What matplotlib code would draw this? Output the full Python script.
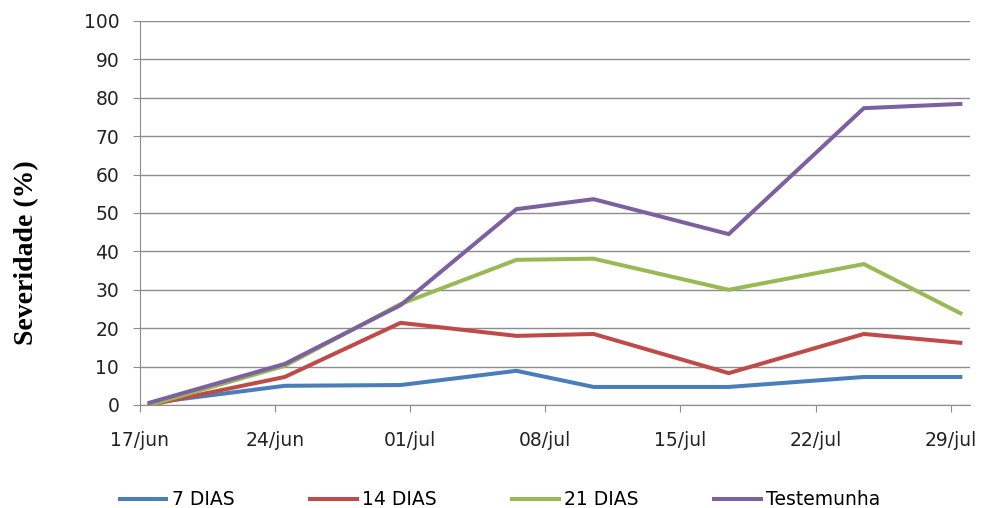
import datetime as dt
import matplotlib
matplotlib.use('Agg')
import matplotlib.pyplot as plt
import matplotlib.dates as mdates
from matplotlib.ticker import FuncFormatter

# evaluation dates (2010 is only a placeholder year)
dates = ['17/06', '24/06', '30/06', '06/07', '10/07', '17/07', '24/07', '29/07']

# severity (%) per treatment
dias_7 = [0.5, 5.0, 5.2, 8.9, 4.7, 4.7, 7.3, 7.3]
dias_14 = [0.0, 7.3, 21.4, 18.0, 18.5, 8.3, 18.5, 16.2]
dias_21 = [0.0, 10.2, 26.3, 37.8, 38.1, 30.0, 36.7, 23.9]
testemunha = [0.6, 10.7, 26.0, 51.0, 53.6, 44.5, 77.3, 78.4]

series_names = ['7 DIAS', '14 DIAS', '21 DIAS', 'Testemunha']
series_colors = ['#4A7EBB', '#BE4B48', '#98B954', '#7D60A0']

tick_dates = ['17/06', '24/06', '01/07', '08/07', '15/07', '22/07', '29/07']
month_names = {6: 'jun', 7: 'jul'}


def to_date(s):
    d, m = s.split('/')
    return dt.datetime(2010, int(m), int(d))


# Excel puts each point in the middle of its day
x = [mdates.date2num(to_date(s)) + 0.5 for s in dates]
ticks = [mdates.date2num(to_date(s)) for s in tick_dates]

plt.rcParams['font.family'] = ['DejaVu Sans']

fig = plt.figure(figsize=(9.92, 5.08), dpi=100)
ax = fig.add_axes([140 / 992, 1 - 405 / 508, 830 / 992, 384 / 508])

for vals, name, col in zip([dias_7, dias_14, dias_21, testemunha], series_names, series_colors):
    ax.plot(x, vals, color=col, lw=2.9, label=name, solid_joinstyle='miter')

ax.set_ylim(0, 100)
ax.set_yticks(range(0, 101, 10))
ax.set_xlim(ticks[0], ticks[-1] + 1)
ax.set_xticks(ticks)


def fmt(v, pos):
    d = mdates.num2date(v)
    return '%02d/%s' % (d.day, month_names[d.month])


ax.xaxis.set_major_formatter(FuncFormatter(fmt))

ax.grid(axis='y', color='#8c8c8c', lw=1)
ax.set_axisbelow(True)
for s in ['top', 'right']:
    ax.spines[s].set_visible(False)
for s in ['left', 'bottom']:
    ax.spines[s].set_color('#8c8c8c')
ax.tick_params(axis='both', colors='#8c8c8c', labelcolor='#222222', labelsize=13.5, length=5)
ax.tick_params(axis='y', pad=10)
ax.tick_params(axis='x', pad=14)

fig.text(27 / 992, 1 - 253 / 508, 'Severidade (%)', family='Liberation Serif',
         fontweight='bold', fontsize=20, rotation=90, ha='center', va='center')

fig.legend(loc='center', bbox_to_anchor=(500 / 992, 0.016), ncol=4, frameon=False,
           fontsize=13.5, handlelength=2.5, handletextpad=0.3, columnspacing=4.0)

fig.savefig('out.png', dpi=100)
